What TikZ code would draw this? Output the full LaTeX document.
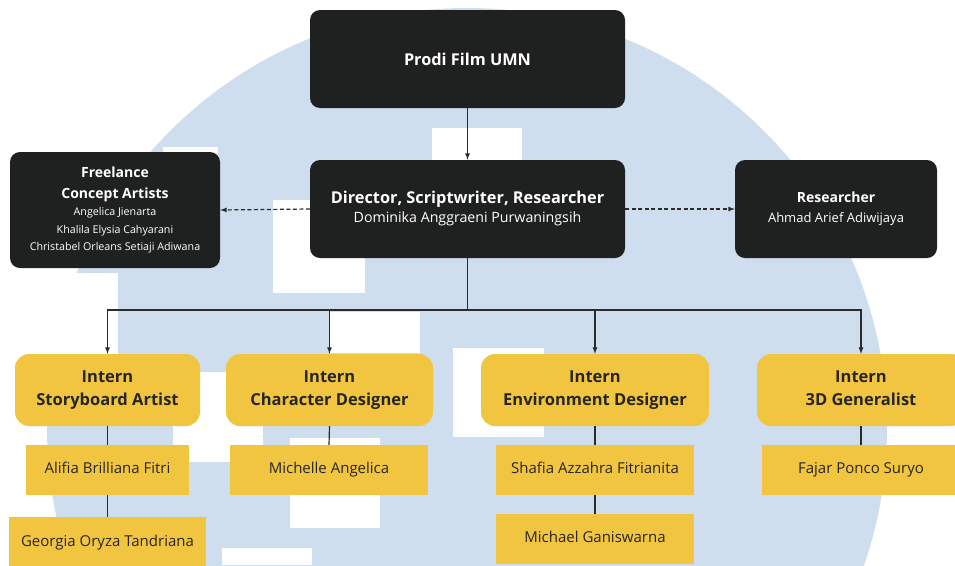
\documentclass[tikz,border=0pt]{standalone}
\usepackage{fontspec}
\setmainfont{Open Sans}
\usetikzlibrary{arrows}

\definecolor{boxdark}{HTML}{1F2120}
\definecolor{boxyellow}{HTML}{F2C540}
\definecolor{bgblue}{HTML}{CEDEEE}
\definecolor{textdark}{HTML}{262626}
\definecolor{linedark}{HTML}{2B2B2B}

\newcommand{\headfont}{\fontsize{16.3}{19}\selectfont\bfseries}
\newcommand{\namefont}{\fontsize{14.2}{19}\selectfont}

\begin{document}
\begin{tikzpicture}[x=1pt, y=-1pt,
    darkbox/.style={fill=boxdark, rounded corners=10pt, text=white, align=center, inner sep=0pt},
    rolebox/.style={fill=boxyellow, rounded corners=14pt, text=textdark, align=center, inner sep=0pt,
        minimum height=72pt, font=\fontsize{16.5}{23}\selectfont\bfseries},
    namebox/.style={fill=boxyellow, text=textdark, inner sep=0pt, minimum height=50pt,
        text height=10.5pt, text depth=3.5pt, font=\fontsize{15}{17}\selectfont},
    link/.style={draw=linedark, line width=1.2pt}]
        \useasboundingbox (0,0) rectangle (955,565);

        % Logo
        \fill[bgblue] (467,428) circle[radius=420pt];
        \fill[white] (432,128) rectangle (522,160);
        \fill[white] (163,147) rectangle (218,160);
        \fill[white] (273,200) rectangle (365,293);
        \fill[white] (40,273) rectangle (118,410);
        \fill[white] (330,312) rectangle (420,353);
        \fill[white] (173,372) rectangle (263,462);
        \fill[white] (453,348) rectangle (544,437);
        \fill[white] (290,438) rectangle (380,528);
        \fill[white] (222,548) rectangle (312,565);

        % Pimpinan
        \node[darkbox, minimum width=315pt, minimum height=98pt] (prodi) at (467.5,59) {\headfont Prodi Film UMN};
        \node[darkbox, minimum width=315pt, minimum height=98pt, font=\namefont] (director) at (467.5,209)
            {{\headfont Director, Scriptwriter, Researcher}\\Dominika Anggraeni Purwaningsih};
        \node[darkbox, minimum width=210pt, minimum height=116pt, font=\fontsize{10.7}{17.5}\selectfont] (freelance) at (115,210)
            {{\fontsize{14}{17.5}\selectfont\bfseries Freelance}\\[3.5pt]{\fontsize{14}{17.5}\selectfont\bfseries Concept Artists}\\Angelica Jienarta\\Khalila Elysia Cahyarani\\Christabel Orleans Setiaji Adiwana};
        \node[darkbox, minimum width=202pt, minimum height=98pt, font=\fontsize{13}{20}\selectfont] (researcher) at (836,209)
            {{\fontsize{14}{20}\selectfont\bfseries Researcher}\\Ahmad Arief Adiwijaya};

        % Intern
        \node[rolebox, minimum width=185pt] (storyboard) at (107.5,390) {Intern\\Storyboard Artist};
        \node[rolebox, minimum width=207pt] (character) at (329.5,390) {Intern\\Character Designer};
        \node[rolebox, minimum width=228pt] (environment) at (595,390) {Intern\\Environment Designer};
        \node[rolebox, minimum width=208pt] (generalist) at (861,390) {Intern\\3D Generalist\vphantom{g}};

        % Nama
        \node[namebox, minimum width=163pt] (alifia) at (107.5,470) {Alifia Brilliana Fitri};
        \node[namebox, minimum width=197pt, minimum height=52pt] (georgia) at (107.5,543) {Georgia Oryza Tandriana};
        \node[namebox, minimum width=198pt] (michelle) at (329,470) {Michelle Angelica};
        \node[namebox, minimum width=198pt] (shafia) at (595,470) {Shafia Azzahra Fitrianita};
        \node[namebox, minimum width=198pt] (michael) at (595,539) {Michael Ganiswarna};
        \node[namebox, minimum width=198pt] (fajar) at (861,470) {Fajar Ponco Suryo};

        % Garis
        \draw[link, ->, >=latex] (prodi) -- (director);
        \draw[link, dash pattern=on 4pt off 2.5pt, ->, >=latex] (director.west) -- (freelance.east);
        \draw[link, dash pattern=on 4pt off 2.5pt, ->, >=latex] (director.east) -- (researcher.west);
        \coordinate (split) at (467.5,310);
        \draw[link] (director.south) -- (split);
        \foreach \role in {storyboard,character,environment,generalist}
            \draw[link, ->, >=latex] (split) -| (\role.north);
        \draw[link] (storyboard.south) -- (alifia.north);
        \draw[link] (alifia.south) -- (georgia.north);
        \draw[link] (character.south) -- (michelle.north);
        \draw[link] (environment.south) -- (shafia.north);
        \draw[link] (shafia.south) -- (michael.north);
        \draw[link] (generalist.south) -- (fajar.north);
    \end{tikzpicture}
\end{document}
